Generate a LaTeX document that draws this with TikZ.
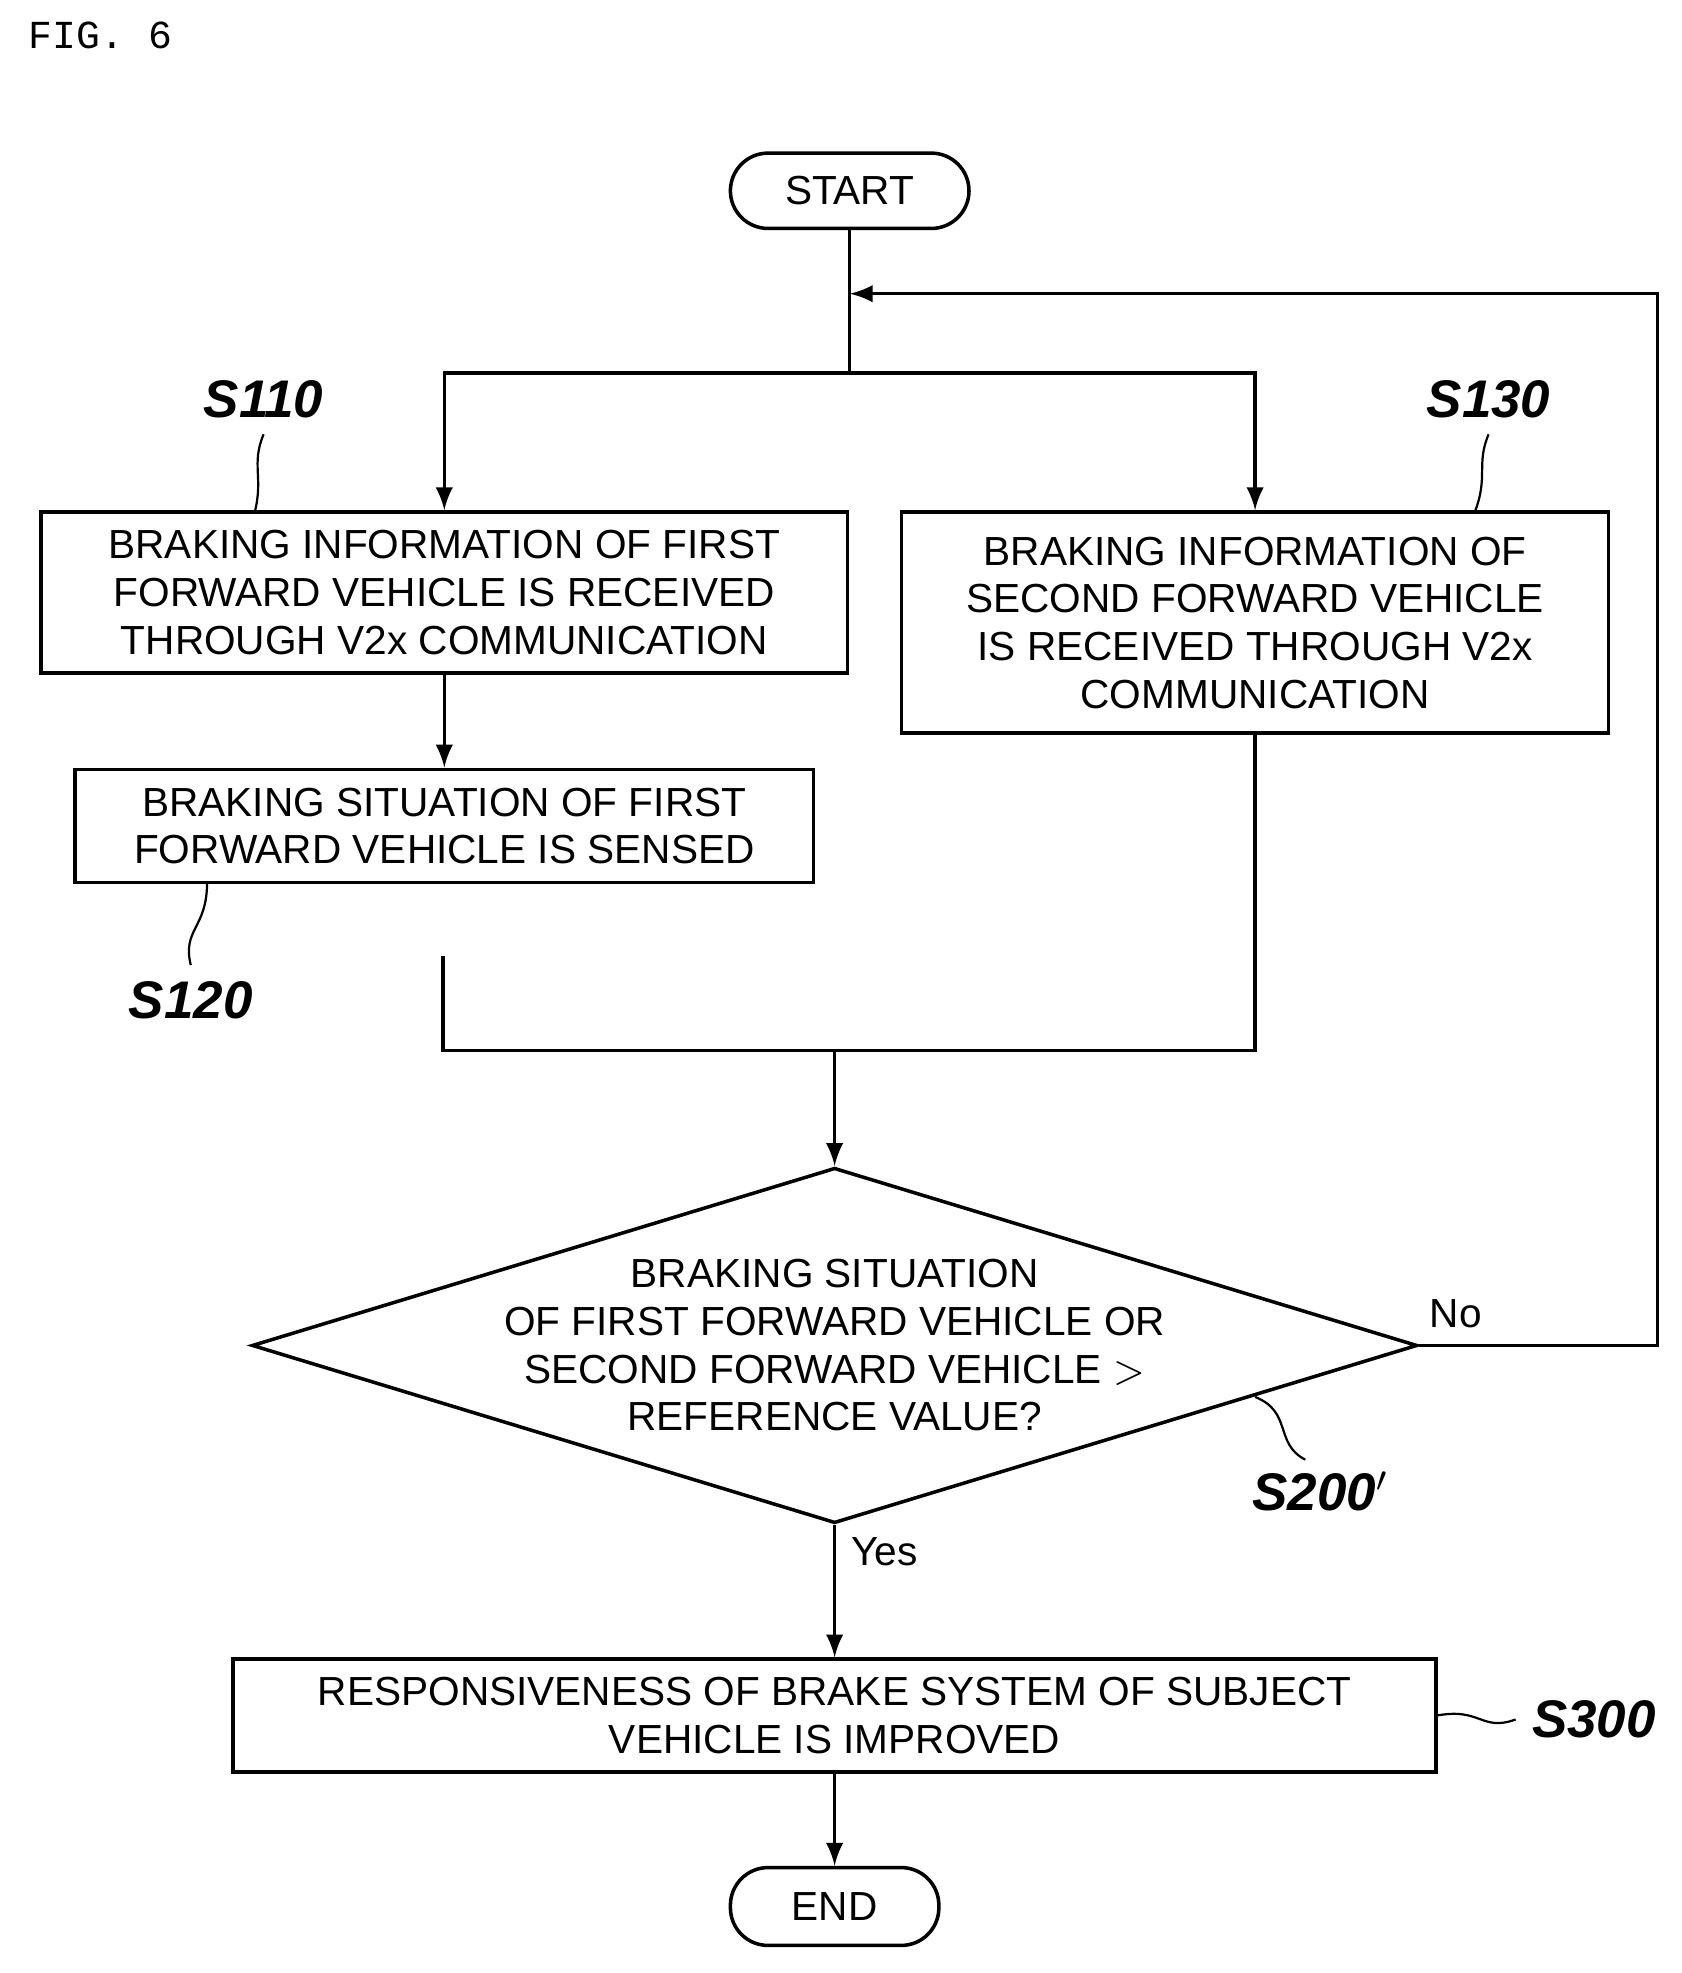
\documentclass[tikz,border=0pt]{standalone}
\usepackage{fontspec}
\setmainfont{Liberation Sans}
\setmonofont{Liberation Mono}
\usetikzlibrary{arrows,positioning}
\usetikzlibrary{shapes.geometric}

\begin{document}
\begin{tikzpicture}[x=0.01cm,y=-0.01cm,>=latex,line width=0.8pt,
		box/.style={draw,rectangle,align=center,inner sep=0pt,font=\fontsize{9.2}{10.8}\selectfont},
		term/.style={draw,rounded corners=0.3cm,inner sep=0pt,font=\fontsize{9.2}{10.8}\selectfont},
		steplabel/.style={font=\fontsize{12}{14}\selectfont\bfseries\itshape},
		lead/.style={line width=0.5pt}]
		\useasboundingbox (0,0) rectangle (1340,1572);
		
		\node[font=\ttfamily\fontsize{9}{10}\selectfont] (fig) at (80,28) {FIG. 6};
		
		\node[term,minimum width=1.9cm,minimum height=0.6cm] (start) at (677,152) {START};
		\node[box,minimum width=6.42cm,minimum height=1.28cm] (s110) at (354,472) {BRAKING INFORMATION OF FIRST\\FORWARD VEHICLE IS RECEIVED\\THROUGH V2x COMMUNICATION};
		\node[box,minimum width=5.88cm,minimum height=0.9cm] (s120) at (354,658) {BRAKING SITUATION OF FIRST\\FORWARD VEHICLE IS SENSED};
		\node[box,minimum width=5.63cm,minimum height=1.76cm] (s130) at (1000,496) {BRAKING INFORMATION OF\\SECOND FORWARD VEHICLE\\IS RECEIVED THROUGH V2x\\COMMUNICATION};
		\node[draw,diamond,aspect=3.27,minimum width=9.28cm,minimum height=2.83cm,inner sep=0pt] (s200) at (665,1072) {};
		\node[align=center,font=\fontsize{9.2}{10.8}\selectfont] (q) at (665,1072) {BRAKING SITUATION\\OF FIRST FORWARD VEHICLE OR\\SECOND FORWARD VEHICLE $>$\\REFERENCE VALUE?};
		\node[box,minimum width=9.58cm,minimum height=0.9cm] (s300) at (665,1367) {RESPONSIVENESS OF BRAKE SYSTEM OF SUBJECT\\VEHICLE IS IMPROVED};
		\node[term,minimum width=1.66cm,minimum height=0.62cm] (end) at (665,1519) {END};
		
		\coordinate (split) at (677,297);
		\coordinate (back) at (677,234);
		\coordinate (gap) at (353,762);
		\coordinate (join) at (665,837);
		
		\draw (start) -- (split);
		\draw[->] (split) -| (s110.north);
		\draw[->] (split) -| (s130.north);
		\draw[->] (s110) -- (s120);
		\draw (gap) |- (join);
		\draw (s130.south) |- (join);
		\draw[->] (join) -- (s200.north);
		\draw[->] (s200.east) -- ++(190,0) |- (back);
		\draw[->] (s200.south) -- node[right,font=\fontsize{9.2}{10.8}\selectfont,pos=0.2] {Yes} (s300);
		\draw[->] (s300) -- (end);
		\node[font=\fontsize{9.2}{10.8}\selectfont] (no) at (1160,1047) {No};
		
		\node[steplabel] (l110) at (210,318) {S110};
		\node[steplabel] (l130) at (1186,318) {S130};
		\node[steplabel] (l120) at (152,797) {S120};
		\node[steplabel] (l200) at (1052,1188) {S200$'$};
		\node[steplabel] (l300) at (1270,1370) {S300};
		\draw[lead] (l110.south) .. controls (200,370) and (210,380) .. (203,408);
		\draw[lead] (l130.south) .. controls (1176,370) and (1186,380) .. (1175,408);
		\draw[lead] (165,703) .. controls (165,740) and (145,740) .. (l120.north);
		\draw[lead] (1000,1113) .. controls (1030,1125) and (1015,1150) .. (1040,1163);
		\draw[lead] (1144,1367) .. controls (1180,1360) and (1180,1380) .. (l300.west);
\end{tikzpicture}
\end{document}
